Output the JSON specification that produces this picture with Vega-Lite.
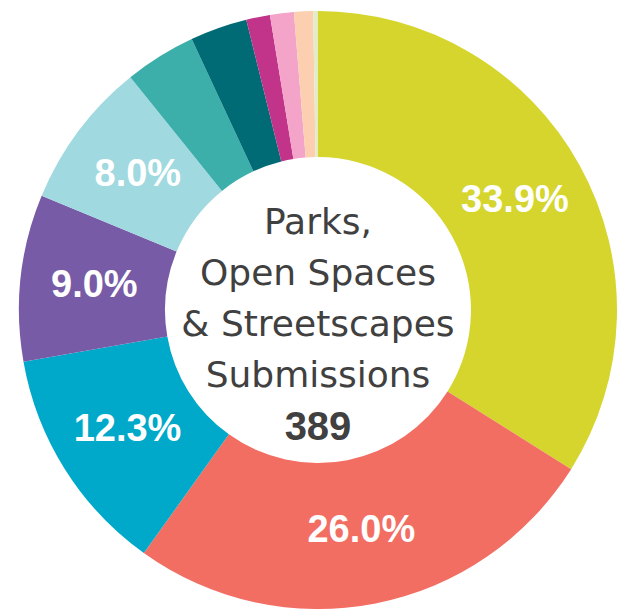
{
  "$schema": "https://vega.github.io/schema/vega-lite/v6.json",
  "width": 617,
  "height": 612,
  "autosize": {"type": "fit", "contains": "padding"},
  "padding": {"left": 19, "top": 8, "right": 0, "bottom": 0},
  "background": "white",
  "view": {"stroke": null},
  "datasets": {
    "slices": [
      {"cat": "A", "rank": 1, "count": 132, "label": "33.9%"},
      {"cat": "B", "rank": 2, "count": 101, "label": "26.0%"},
      {"cat": "C", "rank": 3, "count": 48, "label": "12.3%"},
      {"cat": "D", "rank": 4, "count": 35, "label": "9.0%"},
      {"cat": "E", "rank": 5, "count": 31, "label": "8.0%"},
      {"cat": "F", "rank": 6, "count": 15, "label": ""},
      {"cat": "G", "rank": 7, "count": 12, "label": ""},
      {"cat": "H", "rank": 8, "count": 5, "label": ""},
      {"cat": "I", "rank": 9, "count": 5, "label": ""},
      {"cat": "J", "rank": 10, "count": 4, "label": ""},
      {"cat": "K", "rank": 11, "count": 1, "label": ""}
    ],
    "center": [
      {"title": "Parks,\nOpen Spaces\n& Streetscapes\nSubmissions", "total": "389"}
    ]
  },
  "layer": [
    {
      "data": {"name": "slices"},
      "mark": {"type": "arc", "outerRadius": 299, "innerRadius": 153, "stroke": null},
      "encoding": {
        "theta": {"field": "count", "type": "quantitative", "stack": true},
        "order": {"field": "rank", "type": "quantitative"},
        "color": {
          "field": "cat", "type": "nominal", "legend": null,
          "scale": {
            "domain": ["A","B","C","D","E","F","G","H","I","J","K"],
            "range": ["#D5D52D","#F26D62","#00A9C9","#775BA6","#A0D9DF","#3DAFAA","#006A75","#C13489","#F4A3C9","#FBCFB0","#E2EDC8"]
          }
        }
      }
    },
    {
      "data": {"name": "slices"},
      "mark": {"type": "text", "radius": 225, "font": "Liberation Sans", "fontWeight": "bold", "fontSize": 38, "fill": "white", "align": "center", "baseline": "middle"},
      "encoding": {
        "theta": {"field": "count", "type": "quantitative", "stack": true},
        "order": {"field": "rank", "type": "quantitative"},
        "text": {"field": "label", "type": "nominal"}
      }
    },
    {
      "data": {"name": "center"},
      "mark": {"type": "text", "font": "DejaVu Sans", "fontSize": 36, "fill": "#404040", "align": "center", "baseline": "middle", "lineBreak": "\n", "lineHeight": 51, "dy": -87},
      "encoding": {"text": {"field": "title", "type": "nominal"}}
    },
    {
      "data": {"name": "center"},
      "mark": {"type": "text", "font": "Liberation Sans", "fontWeight": "bold", "fontSize": 40, "fill": "#404040", "align": "center", "baseline": "middle", "dy": 118},
      "encoding": {"text": {"field": "total", "type": "nominal"}}
    }
  ]
}
